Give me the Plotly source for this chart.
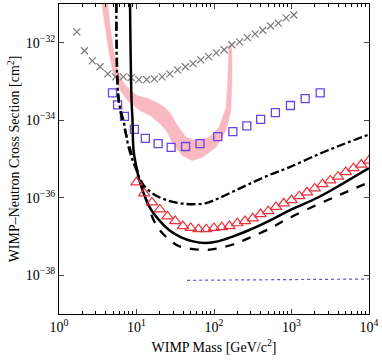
import plotly.graph_objects as go

# ---- data (mass in GeV/c^2, cross section in cm^2) ----
xenon_mass = [8.2, 8.63, 8.89, 9.16, 10.0, 10.9, 14.7, 19.7, 26.5, 37.8, 52, 79, 116,
              180, 281, 507, 1000, 2220, 4640, 10000]
xenon_sigma = [3e-31, 3.2e-34, 9.8e-35, 1.66e-35, 6.0e-36, 2.8e-36, 5.8e-37, 2.6e-37,
               1.45e-37, 9.5e-38, 7.6e-38, 6.8e-38, 7.6e-38, 1.02e-37, 1.45e-37,
               2.5e-37, 5.0e-37, 1.03e-36, 2.35e-36, 5.8e-36]

dashed_mass = [5.5, 5.9, 6.6, 8.4, 10.0, 11.6, 13.4, 18.0, 25, 35.6, 50.7, 79, 116,
               180, 281, 507, 916, 2220, 4640, 10000]
dashed_sigma = [3e-31, 3.2e-34, 9.8e-35, 1.66e-35, 5.8e-36, 2.5e-36, 8.7e-37, 1.95e-37,
                9.1e-38, 5.6e-38, 4.8e-38, 4.5e-38, 5.0e-38, 6.3e-38, 9.1e-38,
                1.55e-37, 2.95e-37, 6.8e-37, 1.3e-36, 2.5e-36]

dashdot_mass = [5.5, 5.9, 6.8, 8.1, 10.0, 11.9, 16.0, 24.3, 35.6, 52, 79, 116, 180,
                281, 507, 916, 2220, 4640, 10000]
dashdot_sigma = [3e-31, 3.2e-34, 9.8e-35, 1.66e-35, 5.1e-36, 2.35e-36, 1.3e-36, 8.7e-37,
                 7.3e-37, 6.8e-37, 7.3e-37, 9.8e-37, 1.47e-36, 2.24e-36, 3.8e-36,
                 6.0e-36, 1.32e-35, 2.4e-35, 4.3e-35]

tri_mass = [10, 12.6, 15.8, 20, 25.1, 31.6, 39.8, 50.1, 63.1, 79.4, 100, 126, 158, 200,
            251, 316, 398, 501, 631, 794, 1000, 1259, 1585, 1995, 2512, 3162, 3981,
            5012, 6310, 7943, 10000]
tri_sigma = [2.5e-36, 1.3e-36, 7.6e-37, 5.0e-37, 3.3e-37, 2.5e-37, 1.86e-37, 1.66e-37,
             1.55e-37, 1.55e-37, 1.66e-37, 1.74e-37, 1.86e-37, 2.2e-37, 2.5e-37,
             2.95e-37, 3.8e-37, 4.5e-37, 5.8e-37, 7.2e-37, 8.7e-37, 1.1e-36, 1.38e-36,
             1.74e-36, 2.24e-36, 2.8e-36, 3.5e-36, 4.6e-36, 5.8e-36, 7.2e-36, 9.1e-36]

sq_mass = [4.9, 5.7, 7.0, 9.4, 13, 19, 28, 43, 66, 112, 175, 265, 400, 620, 970, 1500, 2350]
sq_sigma = [5.1e-34, 2.5e-34, 1.26e-34, 5.8e-35, 3.4e-35, 2.5e-35, 2.0e-35, 2.1e-35,
            2.5e-35, 3.8e-35, 5.1e-35, 7.2e-35, 1.05e-34, 1.58e-34, 2.4e-34, 3.6e-34,
            5.1e-34]

cross_mass = [1.7, 2.13, 2.69, 3.39, 4.27, 5.37, 6.76, 8.51, 10.7, 13.5, 17.0, 21.4, 26.9,
              33.9, 42.7, 53.7, 67.6, 85.1, 107, 135, 170, 214, 269, 339, 427, 537,
              676, 851, 1072]
cross_sigma = [1.9e-32, 6.2e-33, 3.4e-33, 2.4e-33, 1.58e-33, 1.32e-33, 1.32e-33, 1.26e-33,
               1.12e-33, 1.12e-33, 1.17e-33, 1.32e-33, 1.58e-33, 2.0e-33, 2.4e-33,
               2.9e-33, 3.6e-33, 4.4e-33, 5.5e-33, 6.6e-33, 8.9e-33, 1.05e-32, 1.35e-32,
               1.7e-32, 2.1e-32, 2.7e-32, 3.2e-32, 4.4e-32, 5.2e-32]

proj_mass = [45, 10000]
proj_sigma = [7.4e-39, 8.0e-39]

# closed contour of the allowed region (outer edge down, inner edge back up)
band_mass = [3.45, 3.56, 4.01, 4.38, 4.92, 6.24, 7.67, 11.25, 15.1, 19.7, 24.3, 29.0,
             38.9, 52.2, 70.2, 106, 143, 165, 170, 170, 165, 156, 151, 143, 116, 86.3,
             58.8, 43.8, 32.6, 28.1, 22.8, 18.0, 13.8, 10.3, 8.37, 6.81, 5.71, 5.07,
             4.64, 4.25, 4.15]
band_sigma = [1.6e-31, 1e-31, 2.0e-32, 6.2e-33, 1.9e-33, 5.8e-34, 3.2e-34, 1.77e-34,
              1.3e-34, 8.5e-35, 5.4e-35, 2.65e-35, 1.23e-35, 9.1e-36, 1.09e-35, 2.0e-35,
              5.4e-35, 1.77e-34, 1.05e-33, 6.2e-33, 8.8e-33, 8.8e-33, 1.05e-33, 2.1e-34,
              6.5e-35, 3.6e-35, 3.0e-35, 3.6e-35, 8.0e-35, 1.4e-34, 2.2e-34, 2.9e-34,
              3.7e-34, 4.3e-34, 5.8e-34, 9.3e-34, 1.9e-33, 6.2e-33, 2.0e-32, 1e-31,
              1.6e-31]

x_ticks = [1, 10, 100, 1000, 10000]
x_ticktext = ["10<sup>0</sup>", "10<sup>1</sup>", "10<sup>2</sup>", "10<sup>3</sup>", "10<sup>4</sup>"]
y_ticks = [1e-38, 1e-36, 1e-34, 1e-32]
y_ticktext = ["10<sup>−38</sup>", "10<sup>−36</sup>", "10<sup>−34</sup>", "10<sup>−32</sup>"]

x_minor = [m * d for d in (1, 10, 100, 1000) for m in range(2, 10)]

fig = go.Figure()

fig.add_trace(go.Scatter(x=band_mass, y=band_sigma, mode="lines", fill="toself",
                         fillcolor="#f8b9c0", line=dict(color="#f8b9c0", width=0.5)))

fig.add_trace(go.Scatter(x=cross_mass, y=cross_sigma, mode="markers",
                         marker=dict(symbol="x-thin-open", size=7, color="#7a7a7a",
                                     line=dict(width=1.2, color="#7a7a7a"))))

fig.add_trace(go.Scatter(x=sq_mass, y=sq_sigma, mode="markers",
                         marker=dict(symbol="square-open", size=8, color="#6a44e6",
                                     line=dict(width=1.3))))

fig.add_trace(go.Scatter(x=dashdot_mass, y=dashdot_sigma, mode="lines",
                         line=dict(color="black", width=2.3, dash="dashdot", shape="spline")))

fig.add_trace(go.Scatter(x=dashed_mass, y=dashed_sigma, mode="lines",
                         line=dict(color="black", width=2.3, dash="dash", shape="spline")))

fig.add_trace(go.Scatter(x=xenon_mass, y=xenon_sigma, mode="lines",
                         line=dict(color="black", width=2.5, shape="spline")))

fig.add_trace(go.Scatter(x=tri_mass, y=tri_sigma, mode="markers",
                         marker=dict(symbol="triangle-up-open", size=10, color="#e8323f",
                                     line=dict(width=1.2))))

fig.add_trace(go.Scatter(x=proj_mass, y=proj_sigma, mode="lines",
                         line=dict(color="#5a5ad0", width=1.2, dash="dot")))

axis_font = dict(family="Liberation Serif", size=14, color="black")

fig.update_layout(
    width=382, height=361,
    margin=dict(l=59, r=11, t=3, b=47),
    paper_bgcolor="white", plot_bgcolor="white",
    showlegend=False,
    font=axis_font,
    xaxis=dict(type="log", range=[0, 4], tickvals=x_ticks, ticktext=x_ticktext,
               ticks="inside", ticklen=5, showline=True, linecolor="black", linewidth=1,
               mirror="ticks", showgrid=False, zeroline=False, automargin=True,
               minor=dict(tickvals=x_minor, ticks="inside", ticklen=3, tickcolor="black",
                          showgrid=False),
               title=dict(text="WIMP Mass [GeV/c<sup>2</sup>]", font=axis_font, standoff=8)),
    yaxis=dict(type="log", range=[-39, -31], tickvals=y_ticks, ticktext=y_ticktext,
               ticks="inside", ticklen=5, showline=True, linecolor="black", linewidth=1,
               mirror="ticks", showgrid=False, zeroline=False, automargin=False,
               title=dict(text="WIMP–Neutron Cross Section [cm<sup>2</sup>]",
                          font=axis_font, standoff=2)),
)

# drop the browser's default 8px page margin so the figure sits at the window corner
fig.write_html("out.html", config={"displayModeBar": False},
               post_script="document.body.style.margin = '0px';")
